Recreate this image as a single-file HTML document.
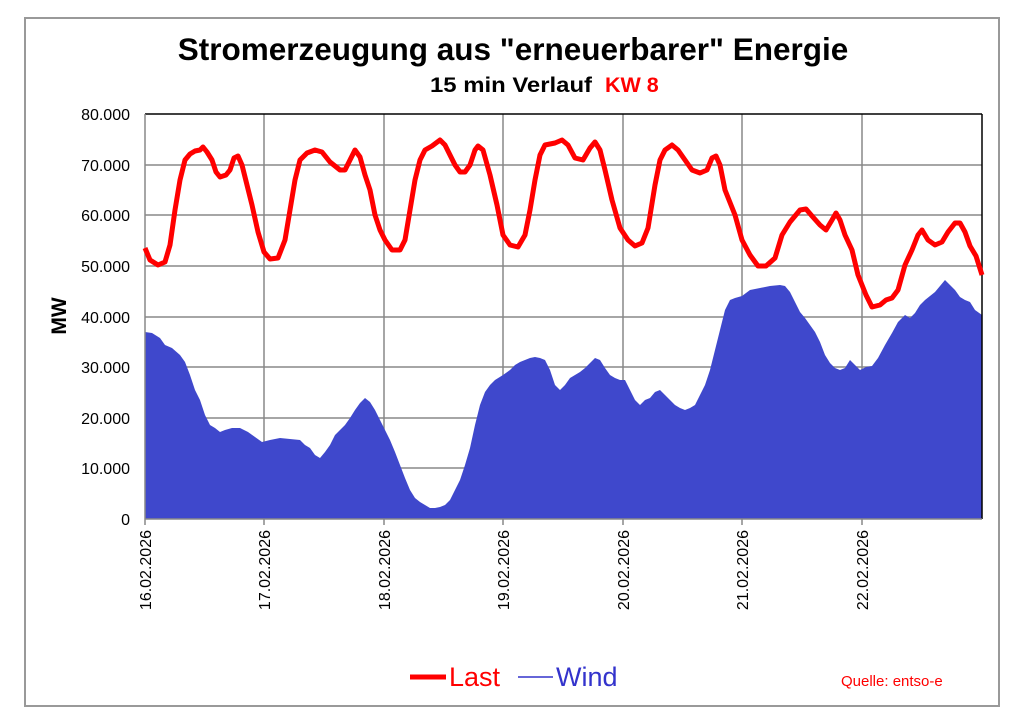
<!DOCTYPE html><html><head><style>body{margin:0;background:#fff}svg{display:block}text{font-family:"Liberation Sans",sans-serif}</style></head><body>
<svg width="1024" height="724" viewBox="0 0 1024 724">
<rect x="25" y="18" width="974" height="688" fill="#fff" stroke="#999" stroke-width="2"/>
<text x="513" y="60" font-size="31.5" font-weight="bold" text-anchor="middle">Stromerzeugung aus "erneuerbarer" Energie</text>
<text x="592" y="92" font-size="21.5" font-weight="bold" text-anchor="end" textLength="162" lengthAdjust="spacingAndGlyphs">15 min Verlauf</text>
<text x="605" y="92" font-size="21.5" font-weight="bold" fill="#f00">KW 8</text>
<g stroke="#888" stroke-width="1.5">
<line x1="145" y1="165" x2="982" y2="165"/><line x1="145" y1="215" x2="982" y2="215"/><line x1="145" y1="266" x2="982" y2="266"/><line x1="145" y1="317" x2="982" y2="317"/><line x1="145" y1="367" x2="982" y2="367"/><line x1="145" y1="418" x2="982" y2="418"/><line x1="145" y1="468" x2="982" y2="468"/>
<line x1="264" y1="114" x2="264" y2="525"/><line x1="384" y1="114" x2="384" y2="525"/><line x1="503" y1="114" x2="503" y2="525"/><line x1="623" y1="114" x2="623" y2="525"/><line x1="742" y1="114" x2="742" y2="525"/><line x1="862" y1="114" x2="862" y2="525"/><line x1="145" y1="519" x2="145" y2="525"/>
</g>
<polygon fill="#3f48cc" points="145,519 145,332 152,333 160,338 165,345 172,348 180,355 185,362 190,375 195,390 200,400 205,415 210,425 215,428 220,432 225,430 232,428 240,428 248,432 255,437 262,442 270,440 280,438 290,439 300,440 305,445 310,448 315,455 320,458 325,452 330,445 335,435 340,430 345,425 350,418 355,410 360,403 365,398 370,402 375,410 380,420 385,430 390,440 395,452 400,465 405,478 410,490 415,498 420,502 425,505 430,508 435,508 440,507 445,505 450,500 455,490 460,480 465,465 470,448 475,425 480,405 485,392 490,385 495,380 503,375 510,370 515,365 520,362 525,360 530,358 535,357 540,358 545,360 550,370 555,385 560,390 565,385 570,378 575,375 580,372 585,368 590,363 595,358 600,360 605,368 610,375 615,378 620,380 625,380 630,390 635,400 640,405 645,400 650,398 655,392 660,390 665,395 670,400 675,405 680,408 685,410 690,408 695,405 700,395 705,385 710,370 715,350 720,330 725,310 730,300 735,298 742,296 750,290 760,288 770,286 780,285 785,286 790,292 795,302 800,312 805,318 810,325 815,332 820,342 825,355 830,363 835,368 840,370 845,368 850,360 855,365 860,370 866,367 872,366 878,358 885,345 892,333 898,322 905,315 910,318 915,313 920,305 925,300 935,292 945,280 950,285 955,290 960,297 965,300 970,302 975,310 982,315 982,519"/>
<line x1="145" y1="114" x2="982" y2="114" stroke="#000" stroke-width="1.5"/>
<line x1="982" y1="114" x2="982" y2="519" stroke="#000" stroke-width="1.5"/>
<line x1="145" y1="114" x2="145" y2="519" stroke="#888" stroke-width="1.5"/>
<line x1="145" y1="519" x2="982" y2="519" stroke="#888" stroke-width="1.5"/>
<polyline fill="none" stroke="#f00" stroke-width="5" stroke-linejoin="round" points="145,248 150,260 158,265 165,262 170,245 175,210 180,180 185,160 190,154 195,151 200,150 203,147 207,152 212,160 216,172 220,177 226,175 230,170 234,158 238,156 242,165 247,185 252,205 258,232 264,252 270,259 278,258 285,240 290,210 295,180 300,160 307,153 315,150 322,152 330,162 340,170 345,170 350,160 355,150 360,157 365,175 370,190 375,215 380,230 385,240 392,250 400,250 405,240 410,210 415,180 420,160 425,150 432,146 440,140 445,145 450,155 455,165 460,172 465,172 470,165 475,150 478,146 483,150 490,175 497,205 503,235 510,245 518,247 525,235 530,210 535,180 540,155 545,145 555,143 562,140 568,145 575,158 583,160 590,148 595,142 600,150 605,170 612,200 620,228 628,240 635,246 642,243 648,228 655,185 660,160 665,150 672,145 678,150 685,160 692,170 700,173 707,170 712,158 716,156 720,165 725,190 735,215 742,240 750,255 758,266 766,266 775,258 782,235 790,222 800,210 806,209 812,216 820,225 826,230 832,220 836,213 840,220 845,235 852,250 858,275 866,295 872,307 880,305 886,300 892,298 898,290 905,265 912,250 918,235 922,230 928,240 935,245 942,242 948,232 955,223 960,223 965,232 970,246 976,256 982,275"/>
<g font-size="16" text-anchor="end">
<text x="130" y="120">80.000</text><text x="130" y="171">70.000</text><text x="130" y="221">60.000</text><text x="130" y="272">50.000</text><text x="130" y="323">40.000</text><text x="130" y="373">30.000</text><text x="130" y="424">20.000</text><text x="130" y="474">10.000</text><text x="130" y="525">0</text>
</g>
<text transform="translate(66,316) rotate(-90)" font-size="21" font-weight="bold" text-anchor="middle">MW</text>
<g font-size="16" text-anchor="end">
<text transform="translate(151,530) rotate(-90)">16.02.2026</text>
<text transform="translate(270,530) rotate(-90)">17.02.2026</text>
<text transform="translate(390,530) rotate(-90)">18.02.2026</text>
<text transform="translate(509,530) rotate(-90)">19.02.2026</text>
<text transform="translate(629,530) rotate(-90)">20.02.2026</text>
<text transform="translate(748,530) rotate(-90)">21.02.2026</text>
<text transform="translate(868,530) rotate(-90)">22.02.2026</text>
</g>
<line x1="410" y1="677" x2="446" y2="677" stroke="#f00" stroke-width="5"/>
<text x="449" y="686" font-size="27" fill="#f00">Last</text>
<line x1="518" y1="677" x2="553" y2="677" stroke="#3333cc" stroke-width="1.5"/>
<text x="556" y="686" font-size="27" fill="#3333cc">Wind</text>
<text x="841" y="686" font-size="15" fill="#f00">Quelle: entso-e</text>
</svg></body></html>
